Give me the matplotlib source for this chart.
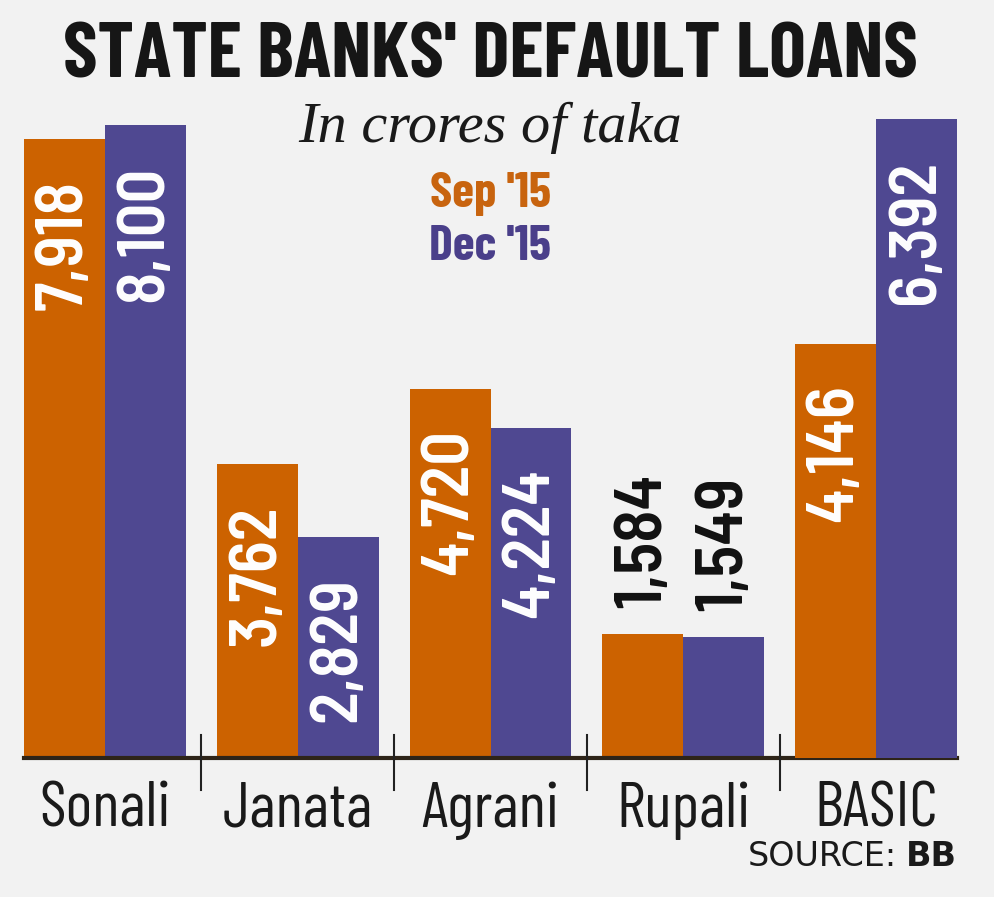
import matplotlib
matplotlib.use("Agg")
import matplotlib.pyplot as plt

banks = ["Sonali", "Janata", "Agrani", "Rupali", "BASIC"]
sep15 = [7918, 3762, 4720, 1584, 4146]
dec15 = [8100, 2829, 4224, 1549, 6392]
value_labels_sep = ["7,918", "3,762", "4,720", "1,584", "4,146"]
value_labels_dec = ["8,100", "2,829", "4,224", "1,549", "6,392"]

COND = "Barlow Condensed"
SEMI = "Barlow Semi Condensed"
ORANGE = "#cc6200"
PURPLE = "#4f4891"
BG = "#f2f2f2"

W, H = 994, 897
fig = plt.figure(figsize=(W / 100, H / 100), dpi=100)
fig.patch.set_facecolor(BG)

left_px, right_px, top_px, base_px = 24, 957, 100, 758
pos = [left_px / W, (H - base_px) / H, (right_px - left_px) / W, (base_px - top_px) / H]
ax = fig.add_axes(pos)
ax2 = fig.add_axes(pos)  # BASIC pair drawn on its own scale, as in the original
for a in (ax, ax2):
    a.set_xlim(-0.42, 4.42)
    a.axis("off")
    a.patch.set_alpha(0)
ax.set_ylim(0, 8420)
ax2.set_ylim(0, 6587)

bw = 0.42
for i in range(5):
    a = ax2 if banks[i] == "BASIC" else ax
    for val, lab, col, dx in ((sep15[i], value_labels_sep[i], ORANGE, -bw / 2),
                              (dec15[i], value_labels_dec[i], PURPLE, bw / 2)):
        a.bar(i + dx, val, width=bw, color=col, linewidth=0)
        if banks[i] == "Rupali":
            a.annotate(lab, (i + dx, val), xytext=(0, 19), textcoords="offset points",
                       rotation=90, ha="center", va="bottom", color="#111111",
                       fontsize=48, fontweight="semibold", family=SEMI)
        else:
            a.annotate(lab, (i + dx, val), xytext=(0, -29), textcoords="offset points",
                       rotation=90, ha="center", va="top", color="white",
                       fontsize=48, fontweight="semibold", family=SEMI)

ax.axhline(0, color="#2e2418", lw=3, clip_on=False)
xt = ax.get_xaxis_transform()
for x in (0.5, 1.5, 2.5, 3.5):
    ax.plot([x, x], [0.035, -0.049], color="#222222", lw=1.5, transform=xt, clip_on=False)
for i, b in enumerate(banks):
    ax.text(i, -0.080, b, transform=xt, ha="center", va="center",
            fontsize=46, family=COND, color="#1a1a1a")

fig.text(490 / W, 1 - 57 / H, "STATE BANKS' DEFAULT LOANS", ha="center", va="center",
         fontsize=56, fontweight="bold", family=COND, color="#161616")
fig.text(490 / W, 1 - 128 / H, "In crores of taka", ha="center", va="center",
         fontsize=42, style="italic", family="Liberation Serif", color="#1a1a1a")
fig.text(490 / W, 1 - 194 / H, "Sep '15", ha="center", va="center",
         fontsize=36, fontweight="bold", family=COND, color="#c8640f")
fig.text(490 / W, 1 - 247 / H, "Dec '15", ha="center", va="center",
         fontsize=36, fontweight="bold", family=COND, color="#4a3f8a")
fig.text(957 / W, 1 - 856 / H, "BB", ha="right", va="center",
         fontsize=24, fontweight="bold", family="DejaVu Sans", color="#1a1a1a")
fig.text(897 / W, 1 - 856 / H, "SOURCE:", ha="right", va="center",
         fontsize=24, family="DejaVu Sans", color="#1a1a1a")

fig.savefig("out.png", dpi=100, facecolor=BG)
